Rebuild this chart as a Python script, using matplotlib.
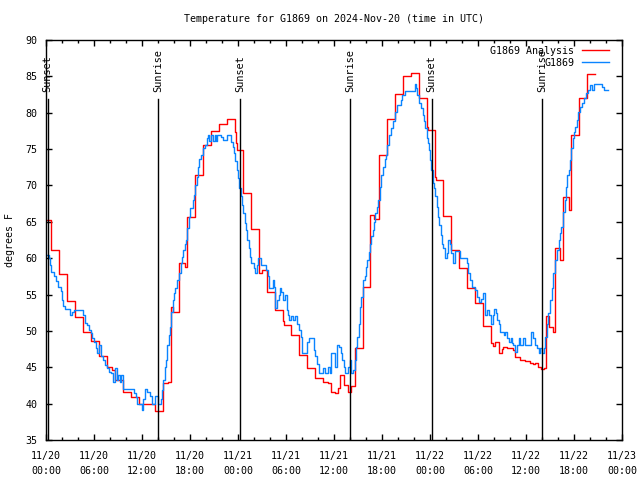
import matplotlib
matplotlib.use("Agg")
import matplotlib.pyplot as plt
import matplotlib.dates as mdates
import pandas as pd
import numpy as np

# ---- data (hours since 2024-11-20 00:00 UTC, deg F) ----
analysis_hours = [0, 0.67, 1.67, 2.67, 3.67, 4.67, 5.67, 6.67, 7.67, 8.2, 8.67, 9.67, 10.67, 11.67,
                  13.58, 14.58, 15.3, 15.58, 15.9, 16.58, 17.4, 17.67, 18.58, 19.58, 20.58, 21.58,
                  22.58, 23.58, 23.75, 23.9, 24.58, 25.58, 26.58, 27.0, 27.58, 28.67, 29.58, 29.8,
                  30.58, 31.58, 32.58, 33.58, 34.6, 35.25, 35.67, 36.08, 36.5, 36.7, 37.25, 37.75,
                  38.08, 38.67, 39.625, 40.46, 41.0, 41.58, 42.58, 43.58, 44.58, 45.58, 46.58,
                  47.58, 47.75, 48.58, 48.75, 49.58, 50.58, 51.58, 52.58, 53.58, 54.58, 55.58,
                  55.83, 56.17, 56.58, 56.96, 57.17, 57.67, 58.42, 58.625, 59.25, 59.875, 60.5,
                  60.92, 61.17, 61.54, 61.83, 62.25, 62.5, 62.83, 63.33, 63.58, 64.29, 64.58,
                  65.33, 65.58, 66.58, 67.58, 68.58]
analysis_temp = [65.2, 61.1, 57.8, 54.1, 51.9, 49.9, 48.6, 46.5, 45.0, 44.6, 43.25, 41.6, 40.9, 40.0,
                 39.0, 42.8, 43.0, 53.3, 52.6, 59.3, 58.8, 65.7, 71.4, 75.6, 77.5, 78.5,
                 79.1, 77.4, 75.8, 74.9, 69.0, 64.0, 57.9, 58.4, 55.3, 52.9, 51.3, 50.8,
                 49.4, 46.7, 44.9, 43.5, 43.0, 42.8, 41.6, 41.5, 42.1, 43.9, 42.6, 41.6,
                 42.4, 47.6, 56.1, 65.9, 65.4, 74.2, 79.1, 82.6, 85.1, 85.5, 82.0,
                 78.1, 77.6, 71.2, 70.7, 65.8, 61.1, 58.6, 55.9, 53.8, 50.7, 48.3,
                 47.9, 48.5, 46.9, 47.5, 47.8, 47.6, 47.4, 46.4, 46.0, 45.8, 45.6,
                 45.5, 45.6, 45.1, 44.7, 44.9, 52.0, 50.6, 49.9, 61.4, 59.8, 68.4,
                 66.6, 76.9, 82.0, 85.3, 85.3]

obs_hours = [0, 0.33, 0.5, 0.67, 1.0, 1.25, 1.5, 1.83, 2.0, 2.17, 2.33, 3.0, 3.25, 3.5, 4.67, 4.83,
             5.17, 5.33, 5.58, 5.75, 6.0, 6.25, 6.42, 6.67, 6.92, 7.08, 7.42, 7.67, 7.92, 8.17,
             8.42, 8.58, 8.83, 9.0, 9.25, 9.42, 9.58, 9.67, 11.0, 11.25, 11.42, 12.04, 12.17,
             12.33, 12.67, 13.0, 13.29, 13.58,
             14.0, 14.33, 14.5, 14.67, 14.83, 15.0, 15.08, 15.33, 15.5, 15.67, 15.83, 16.0,
             16.17, 16.33, 16.67, 16.83, 17.0, 17.17, 17.33, 17.5, 17.67, 17.83, 18.0, 18.33,
             18.5, 18.67, 18.83, 19.0, 19.17, 19.42, 19.67, 19.92, 20.08, 20.25, 20.42, 20.67,
             20.83, 21.08, 21.25, 21.42, 21.83, 22.08, 22.67, 23.17, 23.33, 23.5, 23.67, 23.83,
             24.0, 24.17, 24.33, 24.5, 24.67, 24.83, 25.0, 25.17, 25.33, 25.5, 25.67, 26.0,
             26.17, 26.33, 26.5, 26.92, 27.5, 27.75, 27.92, 28.33, 28.5, 28.67, 28.92, 29.08,
             29.25, 29.42, 29.67, 29.92, 30.08, 30.25, 30.42, 30.67, 30.92, 31.17, 31.42, 31.67,
             31.83, 32.0, 32.58, 32.83, 33.5, 33.67, 33.92, 34.17, 34.6, 34.83, 35.25, 35.5,
             35.58, 36.08, 36.33, 36.42, 36.67, 36.83, 37.0, 37.25, 37.42, 37.75, 38.0, 38.17,
             38.42, 38.58, 38.75, 38.92, 39.08, 39.25, 39.42, 39.58, 39.83, 40.0, 40.17, 40.33,
             40.5, 40.67, 40.83, 41.0, 41.17, 41.33, 41.5,
             41.75, 41.92, 42.08, 42.33, 42.5, 42.67, 42.92, 43.08, 43.33, 43.58, 43.83, 44.33,
             44.5, 44.83, 46.08, 46.25, 46.42, 46.67, 46.92, 47.08, 47.25, 47.42, 47.58, 47.75,
             47.92, 48.0, 48.17, 48.33, 48.5, 48.67, 48.83, 49.0, 49.17, 49.33, 49.5, 49.67,
             49.92, 50.08, 50.25, 50.5, 50.67, 50.92, 51.17, 51.75, 52.58, 52.75, 53.0, 53.25,
             53.67, 53.83, 54.08, 54.42, 54.67, 54.83, 55.08, 55.33, 55.58, 55.83, 56.0, 56.25,
             56.42, 56.58, 56.75, 57.25, 57.42, 57.58, 57.83, 58.08, 58.25, 58.42, 58.67, 58.83,
             59.08, 59.25, 59.67, 59.92, 60.67, 60.92, 61.17, 61.33, 61.58, 61.75, 62.0, 62.25,
             62.42, 62.58, 62.75, 63.0, 63.25, 63.42, 63.58, 63.83, 64.08, 64.25, 64.42, 64.58,
             64.67, 64.83, 65.0, 65.17, 65.33, 65.5, 65.67, 65.83, 66.0, 66.17, 66.33, 66.5,
             66.75, 67.0, 67.25, 67.5, 67.75, 68.0, 68.25, 68.5, 69.5, 69.75, 70.25]
obs_temp = [60.4, 60.0, 59.1, 58.1, 57.5, 56.8, 56.1, 55.5, 54.25, 53.4, 53.0, 52.2, 52.6, 52.9, 52.2, 51.1,
            50.8, 50.1, 49.7, 49.0, 48.5, 47.6, 46.9, 48.1, 46.5, 46.0, 45.3, 44.9, 44.4, 44.2,
            43.0, 44.9, 43.25, 43.9, 43.0, 43.9, 42.6, 42.0, 41.5, 40.9, 40.0, 39.1, 40.7,
            42.0, 41.6, 41.0, 40.0, 41.0,
            40.0, 40.7, 41.9, 43.25, 45.1, 46.0, 48.1, 49.4, 50.6, 52.6, 54.25, 55.2,
            55.9, 57.0, 57.9, 59.3, 60.2, 61.1, 62.0, 62.5, 64.1, 65.7, 66.9, 68.0,
            68.7, 70.1, 71.2, 72.6, 73.7, 74.2, 75.1, 75.6, 76.5, 77.0, 76.1, 77.0,
            76.1, 77.0, 76.1, 77.0, 76.6, 76.2, 76.9, 76.0, 75.3, 74.4, 73.3, 72.1,
            71.0, 69.6, 68.5, 67.3, 66.2, 64.8, 63.9, 62.5, 61.4, 60.2, 59.3, 58.6,
            58.0, 59.1, 60.0, 59.1, 58.4, 57.5, 55.9, 57.0, 56.1, 53.1, 54.25, 54.9,
            55.9, 55.4, 54.25, 54.9, 52.9, 52.2, 51.5, 52.0, 51.5, 52.0, 51.0, 50.1,
            49.2, 46.9, 48.5, 49.0, 47.4, 46.5, 45.5, 44.2, 44.9, 44.2, 45.1, 44.2,
            46.9, 45.1, 46.5, 48.1, 47.8, 46.9, 46.0, 45.1, 44.2, 45.1, 46.0, 44.2,
            44.6, 46.0, 47.8, 49.2, 51.0, 53.3, 54.7, 57.0, 57.5, 58.8, 59.75, 60.9,
            62.0, 63.0, 63.9, 65.0, 66.2, 67.1, 68.0,
            69.8, 71.4, 72.6, 73.7, 74.2, 75.6, 76.9, 77.9, 78.8, 80.1, 81.1, 81.75,
            82.4, 83.0, 83.95, 83.4, 82.4, 81.3, 80.6, 79.7, 78.8, 77.9, 76.5, 75.8,
            74.9, 73.5, 72.1, 70.3, 69.6, 68.5, 67.1, 65.7, 64.6, 63.2, 62.0, 61.4,
            60.0, 60.7, 62.5, 62.0, 60.7, 59.3, 61.0, 60.0, 59.3, 57.9, 57.0, 56.1,
            55.6, 54.7, 54.0, 54.4, 55.2, 52.2, 52.9, 52.2, 51.0, 52.2, 53.0, 52.4,
            51.5, 51.0, 49.9, 49.4, 49.9, 49.0, 48.5, 49.0, 48.3, 48.1, 47.1, 48.1,
            49.0, 48.1, 49.0, 48.1, 49.9, 49.0, 48.1, 47.6, 46.9, 47.6, 46.9, 47.6,
            49.2, 51.0, 52.4, 54.25, 55.9, 57.9, 59.75, 61.1, 62.5, 63.4, 64.3, 65.25,
            66.4, 68.0, 69.8, 71.4, 72.1, 73.5, 75.1, 76.5, 77.4, 78.1, 79.0, 80.1,
            80.8, 81.3, 82.0, 82.7, 83.1, 83.8, 83.1, 84.0, 83.6, 83.1, 83.1]

sun_hours = [0.21, 14.04, 24.29, 38.04, 48.2, 62.04]
sun_labels = ["Sunset", "Sunrise", "Sunset", "Sunrise", "Sunset", "Sunrise"]

series_labels = ["G1869 Analysis", "G1869"]
series_colors = ["#ff0000", "#0a84ff"]

# ---- plotting ----
base = pd.Timestamp("2024-11-20 00:00")
def to_dt(h):
    return base + pd.to_timedelta(np.asarray(h, dtype=float), unit="h")

plt.rcParams['font.family'] = ['DejaVu Sans Mono']
fs = 7.2

fig = plt.figure(figsize=(6.4, 4.8), dpi=100)
ax = fig.add_axes([46/640, 40/480, 576/640, 400/480])

ax.step(to_dt(analysis_hours), analysis_temp, where='post', color=series_colors[0], lw=1.0,
        label=series_labels[0])
ax.step(to_dt(obs_hours), obs_temp, where='post', color=series_colors[1], lw=1.0,
        label=series_labels[1])

line_top = (440 - 99) / 400
for h, lab in zip(sun_hours, sun_labels):
    t = to_dt([h])[0]
    ax.axvline(t, ymin=0, ymax=line_top, color='black', lw=1.0)
    ax.text(t, (440 - 92) / 400, lab, rotation=90, ha='center', va='bottom',
            transform=ax.get_xaxis_transform(), fontsize=fs + 0.2)

ax.set_xlim(base, base + pd.Timedelta(hours=72))
ax.set_ylim(35, 90)
ax.set_yticks(np.arange(35, 91, 5))
ax.xaxis.set_major_locator(mdates.HourLocator(byhour=[0, 6, 12, 18]))
ax.xaxis.set_minor_locator(mdates.HourLocator(byhour=range(0, 24, 2)))
ax.xaxis.set_major_formatter(mdates.DateFormatter('%m/%d\n%H:%M'))

ax.tick_params(which='both', direction='in', top=True, right=True, labelsize=fs)
ax.tick_params(which='major', length=4.5, width=1.0)
ax.tick_params(which='minor', length=2.5, width=1.0)
ax.tick_params(axis='x', pad=8)
ax.tick_params(axis='y', pad=6)
for lbl in ax.get_xticklabels():
    lbl.set_linespacing(1.55)
for sp in ax.spines.values():
    sp.set_linewidth(1.0)

leg = ax.legend(loc='upper right', bbox_to_anchor=(0.977, 0.985), frameon=False,
                markerfirst=False, fontsize=fs,
                handlelength=2.65, handletextpad=0.8, borderaxespad=0.0, labelspacing=0.2,
                borderpad=0.0)

fig.text(334/640, 1 - 19.5/480, "Temperature for G1869 on 2024-Nov-20 (time in UTC)",
         ha='center', va='center', fontsize=fs)
fig.text(10/640, 0.5, "degrees F", rotation=90, ha='center', va='center', fontsize=fs)

fig.savefig("out.png", dpi=100)
